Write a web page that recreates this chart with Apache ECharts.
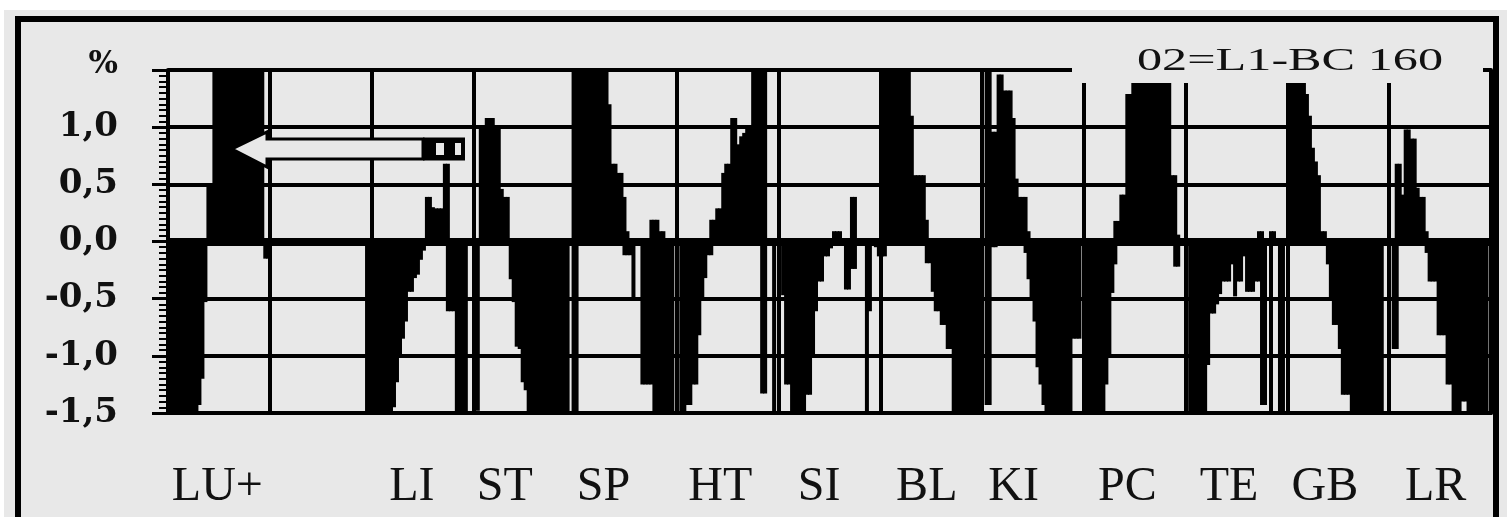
<!DOCTYPE html>
<html>
<head>
<meta charset="utf-8">
<script src="https://cdn.jsdelivr.net/npm/echarts@6/dist/echarts.min.js"></script>
<style>
html,body{margin:0;padding:0;background:#fff;}
#chart{width:1507px;height:517px;}
</style>
</head>
<body>
<div id="chart"></div>
<script>
// ---- data: bar values per grid segment (34 bars per segment), positive and negative parts ----
const upper01 = [0,0,0,0,0,0,0,0,0,0,0,0,0,0.5,0.5,1.6,1.6,1.6,1.6,1.6,1.6,1.6,1.6,1.6,1.6,1.6,1.6,1.6,1.6,1.6,1.6,1.6,0,0];
const lower01 = [-1.6,-1.6,-1.6,-1.6,-1.6,-1.6,-1.6,-1.6,-1.6,-1.6,-1.43,-1.2,-0.53,0,0,0,0,0,0,0,0,0,0,0,0,0,0,0,0,0,0,0,-0.15,-0.15];
const upper02 = [0,0,0,0,0,0,0,0,0,0,0,0,0,0,0,0,0,0,0,0,0,0,0,0,0,0,0,0,0,0,0,0,0,0];
const lower02 = [0,0,0,0,0,0,0,0,0,0,0,0,0,0,0,0,0,0,0,0,0,0,0,0,0,0,0,0,0,0,0,0,-1.55,-1.55];
const upper03 = [0,0,0,0,0,0,0,0,0,0,0,0,0,0,0,0,0,0,0.39,0.39,0.3,0.29,0.29,0.29,0.68,0.68,0,0,0,0,0,0,0,0];
const lower03 = [-1.55,-1.55,-1.55,-1.55,-1.55,-1.55,-1.55,-1.45,-1.23,-0.99,-0.85,-0.7,-0.44,-0.44,-0.32,-0.29,-0.16,-0.08,0,0,0,0,0,0,0,-0.61,-0.61,-0.61,-1.55,-1.55,-1.55,-1.55,0,0];
const upper04 = [0,0,0.99,0.99,1.08,1.08,1.08,0.99,0.99,0.46,0.39,0.39,0,0,0,0,0,0,0,0,0,0,0,0,0,0,0,0,0,0,0,0,0,1.6];
const lower04 = [0,-1.48,0,0,0,0,0,0,0,0,0,0,-0.33,-0.53,-0.92,-0.94,-1.23,-1.3,-1.55,-1.55,-1.55,-1.55,-1.55,-1.55,-1.55,-1.55,-1.55,-1.55,-1.55,-1.55,-1.55,-1.55,0,-1.55];
const upper05 = [1.6,1.6,1.6,1.6,1.6,1.6,1.6,1.6,1.6,1.6,1.6,1.2,0.68,0.68,0.6,0.6,0.39,0.09,0,0,0,0,0,0,0,0.19,0.19,0.19,0.09,0.09,0,0,0,0];
const lower05 = [-1.55,0,0,0,0,0,0,0,0,0,0,0,0,0,0,0,-0.12,-0.12,-0.12,-0.5,0,0,-1.25,-1.25,-1.25,-1.25,-1.5,-1.55,-1.55,-1.55,-1.55,-1.55,-1.55,0];
const upper06 = [0,0,0,0,0,0,0,0,0,0,0,0.19,0.19,0.29,0.29,0.6,0.68,0.68,1.08,1.08,0.85,0.92,0.95,1.0,1.0,1.6,1.6,1.6,1.6,1.6,0,0,0,0];
const lower06 = [0,-1.55,-1.55,-1.43,-1.43,-1.25,-1.25,-0.82,-0.5,-0.32,-0.12,-0.12,0,0,0,0,0,0,0,0,0,0,0,0,0,0,0,0,-1.33,-1.33,0,0,-1.5,0];
const upper07 = [0,0,0,0,0,0,0,0,0,0,0,0,0,0,0,0,0,0,0.09,0.09,0.09,0,0,0,0.39,0.39,0,0,0,0,0,0,0,0];
const lower07 = [0,-0.47,-1.25,-1.25,-1.55,-1.55,-1.55,-1.55,-1.55,-1.34,-1.34,-1.0,-0.61,-0.35,-0.35,-0.13,-0.13,-0.06,0,0,0,0,-0.42,-0.42,-0.24,-0.24,0,0,0,-1.55,-0.61,0,-0.05,-0.13];
const upper08 = [1.6,1.6,1.6,1.6,1.6,1.6,1.6,1.6,1.6,1.6,1.1,0.58,0.58,0.58,0.58,0.19,0,0,0,0,0,0,0,0,0,0,0,0,0,0,0,0,0,0];
const lower08 = [-0.13,-0.13,0,0,0,0,0,0,0,0,0,0,0,0,0,-0.19,-0.19,-0.44,-0.61,-0.61,-0.73,-0.73,-0.94,-0.94,-1.55,-1.55,-1.55,-1.55,-1.55,-1.55,-1.55,-1.55,-1.55,-1.55];
const upper09 = [0,1.6,1.6,0.96,0.96,1.46,1.46,1.32,1.32,1.32,1.08,0.55,0.39,0.39,0.39,0.09,0,0,0,0,0,0,0,0,0,0,0,0,0,0,0,0,0,0];
const lower09 = [0,-1.43,-1.43,-0.05,-0.05,0,0,0,0,0,0,0,0,0,-0.1,-0.33,-0.5,-0.7,-1.1,-1.25,-1.43,-1.55,-1.55,-1.55,-1.55,-1.55,-1.55,-1.55,-1.55,-1.55,-0.85,-0.85,-0.85,0];
const upper10 = [0,0,0,0,0,0,0,0,0,0,0.18,0.18,0.41,0.41,1.29,1.29,1.6,1.6,1.6,1.6,1.6,1.6,1.6,1.6,1.6,1.6,1.6,1.6,1.6,0.58,0.58,0.06,0,0];
const lower10 = [-1.55,-1.55,-1.55,-1.55,-1.55,-1.55,-1.55,-1.25,-1.0,-0.45,-0.2,0,0,0,0,0,0,0,0,0,0,0,0,0,0,0,0,0,0,0,-0.22,-0.22,0,0];
const upper11 = [0,0,0,0,0,0,0,0,0,0,0,0,0,0,0,0,0,0,0,0,0,0,0,0,0.09,0.09,0,0,0.09,0.09,0,0,0,0];
const lower11 = [0,-1.55,-1.55,-1.55,-1.55,-1.55,-1.55,-1.08,-0.63,-0.63,-0.55,-0.46,-0.35,-0.35,-0.35,-0.2,-0.48,-0.35,-0.35,-0.13,-0.44,-0.44,-0.44,-0.35,-0.35,-1.43,-1.43,0,-1.5,0,0,-1.55,-1.55,0];
const upper12 = [0,1.6,1.6,1.6,1.6,1.6,1.29,1.1,0.82,0.7,0.58,0.09,0.09,0,0,0,0,0,0,0,0,0,0,0,0,0,0,0,0,0,0,0,0,0];
const lower12 = [0,0,0,0,0,0,0,0,0,0,0,0,0,-0.2,-0.5,-0.73,-0.73,-0.94,-1.34,-1.34,-1.34,-1.55,-1.55,-1.55,-1.55,-1.55,-1.55,-1.55,-1.55,-1.55,-1.55,-1.5,0,0];
const upper13 = [0,0,0.68,0.68,0.41,0.98,0.98,0.9,0.9,0.47,0.39,0.39,0.09,0,0,0,0,0,0,0,0,0,0,0,0,0,0,0,0,0,0,0,0,0];
const lower13 = [0,-0.94,-0.94,0,0,0,0,0,0,0,0,0,-0.1,-0.35,-0.35,-0.35,-0.82,-0.82,-0.82,-1.25,-1.25,-1.55,-1.55,-1.55,-1.4,-1.4,-1.55,-1.55,-1.55,-1.55,-1.55,-1.55,-1.5,0];

const meridianNames = ['LU+','LI','ST','SP','HT','SI','BL','KI','PC','TE','GB','LR'];
const meridianSlots = [16,81,112,145,184,217,253,282,320,354,386,423];
const yTickLabels = ['-1,5','-1,0','-0,5','0,0','0,5','1,0','%'];
const caption = '02=L1-BC 160';

// ---- assemble ----
const upperSegs = [upper01,upper02,upper03,upper04,upper05,upper06,upper07,upper08,upper09,upper10,upper11,upper12,upper13];
const lowerSegs = [lower01,lower02,lower03,lower04,lower05,lower06,lower07,lower08,lower09,lower10,lower11,lower12,lower13];
const SEG = 34;
upperSegs.concat(lowerSegs).forEach((s, k) => { if (s.length !== SEG) throw new Error('segment ' + k + ' has length ' + s.length); });
const upper = [].concat(...upperSegs);
const lower = [].concat(...lowerSegs);
const categories = upper.map((_, i) => String(i));
const nameBySlot = {};
meridianSlots.forEach((s, k) => { nameBySlot[s] = meridianNames[k]; });

const BG = '#e8e8e8';
const chart = echarts.init(document.getElementById('chart'), null, {renderer: 'canvas'});
const barStyle = {color: '#000'};
const option = {
  animation: false,
  backgroundColor: 'transparent',
  grid: {left: 168, right: 16, top: 70, bottom: 104, containLabel: false},
  xAxis: {
    type: 'category', data: categories, boundaryGap: true,
    axisLine: {show: true, onZero: false, lineStyle: {color: '#000', width: 4}},
    axisTick: {show: false},
    axisLabel: {
      interval: (i) => nameBySlot[i] !== undefined,
      formatter: (v, i) => nameBySlot[i] || '',
      fontFamily: '"Liberation Serif", serif', fontSize: 48, color: '#111', margin: 50
    },
    splitLine: {show: true, interval: (i) => i % SEG === 0, lineStyle: {color: '#000', width: 4}}
  },
  yAxis: [{
    type: 'value', min: -1.5, max: 1.5, interval: 0.5,
    axisLine: {show: true, lineStyle: {color: '#000', width: 4}},
    axisTick: {show: true, length: 16, lineStyle: {color: '#000', width: 3}},
    minorTick: {show: true, splitNumber: 10, length: 9, lineStyle: {color: '#000', width: 2}},
    splitLine: {show: true, lineStyle: {color: '#000', width: 4}},
    axisLabel: {
      margin: 50, color: '#111',
      fontFamily: '"DejaVu Serif", serif', fontWeight: 'bold', fontSize: 34,
      formatter: (v) => {
        const k = Math.round((v + 1.5) / 0.5);
        return k === 6 ? '{pct|' + yTickLabels[k] + '}' : yTickLabels[k];
      },
      rich: {pct: {fontFamily: '"DejaVu Serif", serif', fontWeight: 'bold', fontSize: 31, color: '#111', padding: [0, 0, 10, 0]}}
    }
  }, {
    type: 'value', position: 'right', min: -1.5, max: 1.5, interval: 0.5,
    axisLine: {show: true, lineStyle: {color: '#000', width: 4}},
    axisTick: {show: false}, axisLabel: {show: false}, splitLine: {show: false}
  }],
  series: [{
    type: 'bar', name: 'upper', data: upper, yAxisIndex: 0,
    barWidth: 4, barGap: '-100%',
    itemStyle: barStyle,
    markLine: {
      silent: true, symbol: 'none', label: {show: false},
      lineStyle: {color: '#000', width: 8, type: 'solid'},
      data: [{yAxis: 0}]
    }
  }, {
    type: 'bar', name: 'lower', data: lower, yAxisIndex: 0,
    barWidth: 4, barGap: '-100%',
    itemStyle: barStyle
  }],
  graphic: {elements: [
    {type: 'rect', z: -10, silent: true, shape: {x: 4, y: 10, width: 1503, height: 507}, style: {fill: BG}},
    {type: 'rect', z: -9, silent: true, shape: {x: 18, y: 19, width: 1478, height: 560}, style: {fill: 'none', stroke: '#000', lineWidth: 6}},
    {type: 'rect', z: 100, silent: true, shape: {x: 1072, y: 30, width: 411, height: 53}, style: {fill: BG}},
    {type: 'text', z: 101, silent: true, x: 1137, y: 46, scaleX: 1.57,
      style: {text: caption, font: '32px "Liberation Serif", serif', fill: '#111', textAlign: 'left', textVerticalAlign: 'top'}},
    {type: 'polygon', z: 100, silent: true,
      shape: {points: [[232,149],[267,132],[267,139],[423,139],[423,159],[267,159],[267,167]]},
      style: {fill: BG, stroke: '#000', lineWidth: 3}},
    {type: 'rect', z: 101, silent: true, shape: {x: 423, y: 137.5, width: 42, height: 23}, style: {fill: '#000'}},
    {type: 'rect', z: 102, silent: true, shape: {x: 436, y: 143, width: 8, height: 12}, style: {fill: BG}},
    {type: 'rect', z: 102, silent: true, shape: {x: 455, y: 143, width: 6, height: 12}, style: {fill: BG}}
  ]}
};
chart.setOption(option);
</script>
</body>
</html>
